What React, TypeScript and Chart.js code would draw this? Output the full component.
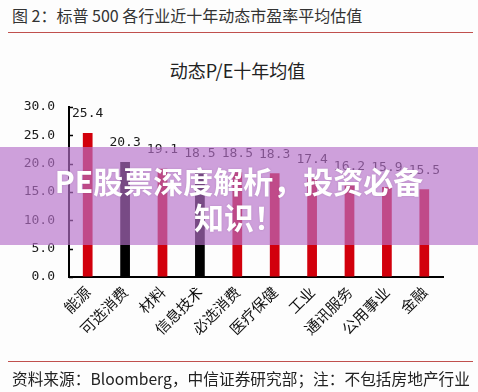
import React, { useEffect, useRef } from "react";
import { Chart, registerables } from "chart.js";

Chart.register(...registerables);

const categories = ["能源", "可选消费", "材料", "信息技术", "必选消费", "医疗保健", "工业", "通讯服务", "公用事业", "金融"];
const peValues = [25.4, 20.3, 19.1, 18.5, 18.5, 18.3, 17.4, 16.2, 15.9, 15.5];
const darkCategories = ["可选消费", "信息技术"];
const yTickValues = [0, 5, 10, 15, 20, 25, 30];

const headingText = "图 2：标普 500 各行业近十年动态市盈率平均估值";
const chartTitle = "动态P/E十年均值";
const sourceText = "资料来源：Bloomberg，中信证券研究部；注：不包括房地产行业";
const bannerLine1 = "PE股票深度解析，投资必备";
const bannerLine2 = "知识！";

const RED = "#d2000c";
const BLACK = "#000000";
const CJK = '"Noto Sans CJK SC", "Noto Sans", sans-serif';
const MONO = '"DejaVu Sans Mono", monospace';

const valueLabelPlugin = {
  id: "valueLabels",
  afterDatasetsDraw(chart: any) {
    const ctx = chart.ctx;
    const meta = chart.getDatasetMeta(0);
    ctx.save();
    ctx.font = `13px ${MONO}`;
    ctx.fillStyle = "#1a1a1a";
    ctx.textAlign = "center";
    ctx.textBaseline = "middle";
    meta.data.forEach((bar: any, i: number) => {
      ctx.fillText(peValues[i].toFixed(1), bar.x, bar.y - 19);
    });
    ctx.restore();
  },
};

const innerTickPlugin = {
  id: "innerTicks",
  afterDraw(chart: any) {
    const ctx = chart.ctx;
    const y = chart.scales.y;
    const left = chart.chartArea.left;
    ctx.save();
    ctx.strokeStyle = "#000";
    ctx.lineWidth = 1.5;
    yTickValues.forEach((v) => {
      const py = Math.round(y.getPixelForValue(v)) + 0.5;
      ctx.beginPath();
      ctx.moveTo(left, py);
      ctx.lineTo(left + 4, py);
      ctx.stroke();
    });
    ctx.restore();
  },
};

export default function App() {
  const canvasRef = useRef<HTMLCanvasElement | null>(null);

  useEffect(() => {
    if (!canvasRef.current) return;
    const colors = categories.map((c) => (darkCategories.includes(c) ? BLACK : RED));
    const chart = new Chart(canvasRef.current, {
      type: "bar",
      data: {
        labels: categories,
        datasets: [
          {
            data: peValues,
            backgroundColor: colors,
            borderWidth: 0,
            barPercentage: 0.26,
            categoryPercentage: 1,
          },
        ],
      },
      options: {
        animation: false,
        responsive: false,
        maintainAspectRatio: false,
        layout: { padding: { left: 0, right: 35, top: 107, bottom: 0 } },
        plugins: { legend: { display: false }, tooltip: { enabled: false }, title: { display: false } },
        scales: {
          x: {
            grid: { display: true, drawOnChartArea: false, drawTicks: false },
            border: { display: true, color: "#000", width: 2 },
            ticks: {
              autoSkip: false,
              maxRotation: 45,
              minRotation: 45,
              padding: 6,
              color: "#111",
              font: { size: 15, family: CJK },
            },
            afterFit: (s: any) => {
              s.height = 115;
            },
          },
          y: {
            min: 0,
            max: 30,
            grid: { display: true, drawOnChartArea: false, drawTicks: false },
            border: { display: true, color: "#000", width: 2 },
            ticks: {
              stepSize: 5,
              padding: 14,
              color: "#1a1a1a",
              font: { size: 13, family: MONO },
              callback: (v: any) => Number(v).toFixed(1),
            },
            afterFit: (s: any) => {
              s.width = 69;
            },
          },
        },
      } as any,
      plugins: [valueLabelPlugin, innerTickPlugin],
    });
    return () => chart.destroy();
  }, []);

  return (
    <div
      style={{
        position: "absolute",
        left: 0,
        top: 0,
        width: 478,
        height: 392,
        background: "#fdfdfd",
        overflow: "hidden",
        fontFamily: CJK,
      }}
    >
      <div
        style={{
          position: "absolute",
          left: 12,
          top: 5,
          fontSize: 16,
          lineHeight: "20px",
          color: "#333",
          whiteSpace: "nowrap",
        }}
      >
        {headingText}
      </div>
      <div style={{ position: "absolute", left: 8, top: 32, width: 465, height: 1, background: "#c0504d" }} />
      <div
        style={{
          position: "absolute",
          left: 0,
          top: 60,
          width: 475,
          textAlign: "center",
          fontSize: 18,
          lineHeight: "20px",
          color: "#222",
        }}
      >
        {chartTitle}
      </div>
      <canvas ref={canvasRef} width={478} height={392} style={{ position: "absolute", left: 0, top: 0, width: 478, height: 392 }} />
      <div
        style={{
          position: "absolute",
          left: 0,
          top: 147,
          width: 478,
          height: 98,
          background: "rgba(182,112,202,0.66)",
        }}
      />
      <div
        style={{
          position: "absolute",
          left: 0,
          top: 162,
          width: 478,
          textAlign: "center",
          fontSize: 30,
          fontWeight: 700,
          lineHeight: "36px",
          color: "#fff",
          whiteSpace: "nowrap",
          textShadow: "0 0 2px rgba(80,40,90,0.25)",
        }}
      >
        {bannerLine1}
        <br />
        {bannerLine2}
      </div>
      <div style={{ position: "absolute", left: 8, top: 361, width: 465, height: 1, background: "#c0504d" }} />
      <div
        style={{
          position: "absolute",
          left: 12,
          top: 369,
          fontSize: 15.7,
          lineHeight: "20px",
          color: "#222",
          whiteSpace: "nowrap",
        }}
      >
        {sourceText}
      </div>
    </div>
  );
}
